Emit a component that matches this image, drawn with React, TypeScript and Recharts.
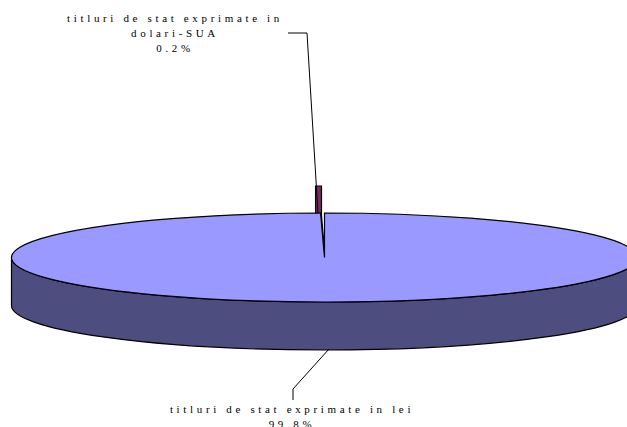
import { Pie, PieChart } from "recharts";

const categories = ["titluri de stat exprimate in dolari-SUA", "titluri de stat exprimate in lei"];
const labelLines = [["titluri de stat exprimate in", "dolari-SUA"], ["titluri de stat exprimate in lei"]];
const shares = [0.2, 99.8];
const fills = ["#7d2a60", "#9999ff"];
const data = categories.map((name, i) => ({ name, value: shares[i], fill: fills[i] }));

const RX = 313;
const RY = 44.5;
const DEPTH = 48;
const SIDE = "#4d4d80";

function rim(cx: number, cy: number, angle: number) {
  const a = (-angle * Math.PI) / 180;
  return { x: cx + RX * Math.cos(a), y: cy + RY * Math.sin(a) };
}

// recharts only does round pies, so squash each sector to an ellipse and add the wall
function Slice3D(props: any) {
  const { cx, cy, startAngle, endAngle, fill, value } = props;
  const a = rim(cx, cy, startAngle);
  const b = rim(cx, cy, endAngle);
  if (value < 1) {
    // small slice, pulled out behind the big one
    const dx = -3;
    const dy = -27;
    return (
      <g>
        <path
          transform={`translate(${dx},${dy})`}
          d={`M${a.x - 2},${a.y} L${b.x},${b.y} L${b.x},${b.y + DEPTH} L${a.x - 2},${a.y + DEPTH} Z`}
          fill={fill}
          stroke="#000"
          strokeWidth={1.2}
        />
        <path d={`M${a.x},${a.y} L${cx},${cy}`} stroke="#000" strokeWidth={2.5} />
      </g>
    );
  }
  const large = Math.abs(startAngle - endAngle) > 180 ? 1 : 0;
  return (
    <g>
      <path
        d={`M${cx - RX},${cy} A${RX},${RY} 0 0 0 ${cx + RX},${cy} L${cx + RX},${cy + DEPTH} A${RX},${RY} 0 0 1 ${cx - RX},${cy + DEPTH} Z`}
        fill={SIDE}
        stroke="#000"
        strokeWidth={1.2}
      />
      <path
        d={`M${cx},${cy} L${a.x},${a.y} A${RX},${RY} 0 ${large} 1 ${b.x},${b.y} Z`}
        fill={fill}
        stroke="#000"
        strokeWidth={1.2}
      />
    </g>
  );
}

function SliceLabel(props: any) {
  const { index, value } = props;
  const lines = [...labelLines[index], `${value.toFixed(1)}%`];
  const x = index === 0 ? 175 : 292;
  const y = index === 0 ? 22 : 413;
  return (
    <text
      x={x}
      y={y}
      textAnchor="middle"
      fontFamily="Liberation Serif"
      fontSize={11}
      letterSpacing={3.65}
      fill="#000"
    >
      {lines.map((t, i) => (
        <tspan key={i} x={x} dy={i === 0 ? 0 : 15}>
          {t}
        </tspan>
      ))}
    </text>
  );
}

function LeaderLine(props: any) {
  const pts = props.index === 0 ? "288,33 307,33 318,213" : "329,349 293,389 293,400";
  return <polyline points={pts} fill="none" stroke="#000" strokeWidth={1} />;
}

export default function App() {
  return (
    <div style={{ position: "absolute", left: 0, top: 0, width: 627, height: 427, overflow: "hidden", background: "#fff" }}>
      <PieChart width={627} height={427} margin={{ top: 0, right: 0, bottom: 0, left: 0 }}>
        <Pie
          data={data}
          dataKey="value"
          nameKey="name"
          cx={324.5}
          cy={257.5}
          innerRadius={0}
          outerRadius={RX}
          startAngle={90.72}
          endAngle={-269.28}
          paddingAngle={0}
          shape={Slice3D}
          label={SliceLabel}
          labelLine={LeaderLine}
          isAnimationActive={false}
        />
      </PieChart>
    </div>
  );
}
